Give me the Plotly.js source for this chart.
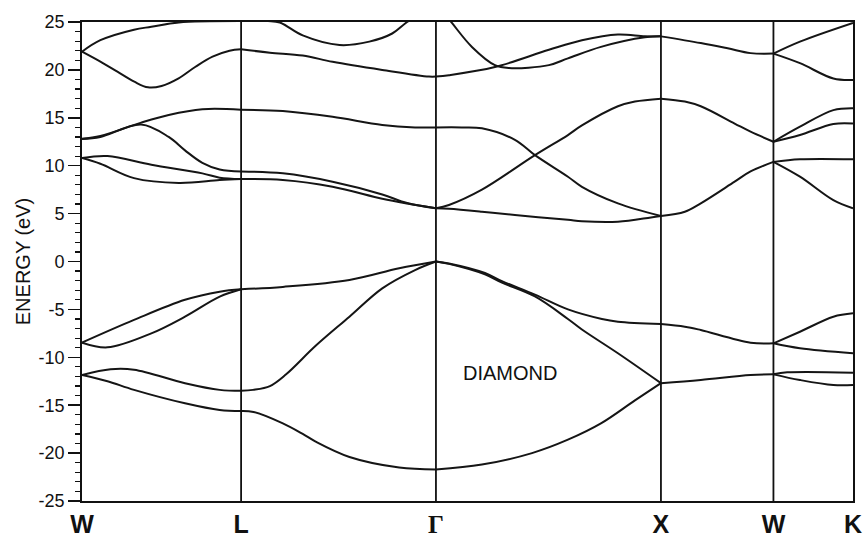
<!DOCTYPE html>
<html>
<head>
<meta charset="utf-8">
<script src="https://cdn.plot.ly/plotly-3.0.1.min.js"></script>
<style>
  html, body { margin: 0; padding: 0; background: #fff; }
  #chart { width: 866px; height: 538px; }
</style>
</head>
<body>
<div id="chart"></div>
<script>
// High-symmetry points along the k-path (units of 2π/a)
const symLabels = ['W', 'L', 'Γ', 'X', 'W', 'K'];
const symK = [0, 0.7071, 1.5731, 2.5731, 3.0731, 3.4267];

const energyTicks = [-25, -20, -15, -10, -5, 0, 5, 10, 15, 20, 25];

// Energy bands of diamond, one list of [k, E (eV)] points per band and per segment

// W → L
const bandsWL = [
  [[0, 21.9], [0.0816, 23.1], [0.2312, 24.2], [0.3082, 24.5], [0.4306, 24.95], [0.7071, 25.1]],
  [[0, 21.9], [0.0816, 20.86], [0.1573, 19.81], [0.2325, 18.77], [0.2933, 18.18], [0.3536, 18.32], [0.4293, 19.12], [0.5045, 20.33], [0.5802, 21.38], [0.6558, 22.0], [0.7071, 22.15]],
  [[0, 12.8], [0.0816, 13.1], [0.2629, 14.5], [0.3853, 15.3], [0.5349, 15.9], [0.7071, 15.85]],
  [[0, 12.8], [0.0816, 13.0], [0.2629, 14.3], [0.3853, 13.0], [0.4578, 11.6], [0.5349, 10.3], [0.6120, 9.6], [0.7071, 9.4]],
  [[0, 10.8], [0.1133, 11.0], [0.3082, 10.1], [0.5349, 9.2], [0.6120, 8.75], [0.7071, 8.6]],
  [[0, 10.8], [0.0816, 10.2], [0.2312, 8.7], [0.4306, 8.2], [0.6120, 8.5], [0.7071, 8.6]],
  [[0, -8.47], [0.2312, -6.1], [0.4578, -4.0], [0.6120, -3.15], [0.7071, -2.9]],
  [[0, -8.47], [0.1133, -8.96], [0.3082, -7.5], [0.4578, -5.76], [0.6120, -3.67], [0.7071, -2.9]],
  [[0, -11.85], [0.1269, -11.25], [0.2312, -11.3], [0.4578, -12.7], [0.6120, -13.4], [0.7071, -13.5]],
  [[0, -11.85], [0.1133, -12.5], [0.2312, -13.4], [0.4578, -14.8], [0.6120, -15.5], [0.7071, -15.6]]
];

// L → Γ
const bandsLG = [
  [[0.7071, 25.1], [0.8264, 25.1], [0.8794, 24.95], [0.9810, 23.6], [1.1445, 22.6], [1.2770, 22.95], [1.3787, 23.8], [1.4449, 25.0], [1.5731, 27.0]],
  [[0.7071, 22.15], [0.8352, 21.8], [0.9810, 21.5], [1.1136, 20.85], [1.3345, 20.0], [1.5421, 19.3], [1.5731, 19.3]],
  [[0.7071, 15.85], [0.8927, 15.7], [1.1136, 15.1], [1.3345, 14.25], [1.4803, 14.0], [1.5731, 14.0]],
  [[0.7071, 9.4], [0.8927, 9.2], [1.1136, 8.33], [1.3345, 7.0], [1.4449, 6.1], [1.5731, 5.55]],
  [[0.7071, 8.6], [0.8927, 8.5], [1.1136, 7.8], [1.3345, 6.55], [1.4449, 6.05], [1.5731, 5.55]],
  [[0.7071, -2.9], [0.8927, -2.65], [1.1887, -1.93], [1.4096, -0.71], [1.5731, 0]],
  [[0.7071, -13.5], [0.7601, -13.4], [0.8352, -13.0], [0.9059, -11.8], [1.0385, -8.8], [1.1887, -5.76], [1.3345, -2.8], [1.4803, -0.89], [1.5731, 0]],
  [[0.7071, -15.6], [0.7624, -15.7], [0.8927, -16.9], [0.9810, -18.0], [1.0385, -18.8], [1.1887, -20.4], [1.4096, -21.5], [1.5731, -21.7]]
];

// Γ → X
const bandsGX = [
  [[1.5731, 5.55], [1.6309, 5.5], [1.7775, 5.2], [1.9242, 4.85], [2.1597, 4.35], [2.2219, 4.2], [2.3819, 4.15], [2.5286, 4.6], [2.5731, 4.75]],
  [[1.5731, 5.55], [1.6309, 5.9], [1.7775, 7.5], [2.0131, 11.1], [2.1597, 13.2], [2.2219, 14.2], [2.3819, 16.2], [2.4575, 16.7], [2.5731, 17.0]],
  [[1.5731, 14.0], [1.6887, 14.0], [1.7775, 13.9], [1.9242, 12.7], [2.0131, 11.1], [2.1597, 8.85], [2.2219, 7.8], [2.3819, 6.07], [2.5731, 4.75]],
  [[1.5731, 19.3], [1.6309, 19.45], [1.8353, 20.3], [2.0753, 22.1], [2.2219, 23.1], [2.3819, 23.7], [2.5019, 23.5], [2.5731, 23.5]],
  [[1.5731, 27.0], [1.6442, 24.9], [1.7331, 22.4], [1.8353, 20.5], [1.8975, 20.2], [2.0753, 20.5], [2.1597, 21.2], [2.3064, 22.4], [2.5019, 23.4], [2.5731, 23.5]],
  [[1.5731, 0], [1.6309, -0.2], [1.7909, -1.2], [1.8664, -2.05], [2.0131, -3.45], [2.1597, -5.0], [2.3108, -6.0], [2.3819, -6.28], [2.5731, -6.52]],
  [[1.5731, 0], [1.6309, -0.25], [1.7909, -1.35], [1.8664, -2.2], [2.0131, -3.65], [2.1597, -6.0], [2.2219, -7.1], [2.3819, -9.58], [2.5731, -12.7]],
  [[1.5731, -21.7], [1.7775, -21.2], [2.0, -20.0], [2.1597, -18.6], [2.3064, -16.9], [2.4575, -14.5], [2.5731, -12.7]]
];

// X → W
const bandsXW = [
  [[2.5731, 23.5], [2.7501, 22.8], [2.8696, 22.25], [2.9714, 21.75], [3.0731, 21.7]],
  [[2.5731, 17.0], [2.6793, 16.7], [2.7501, 16.2], [2.9006, 14.4], [2.9714, 13.55], [3.0731, 12.5]],
  [[2.5731, 4.75], [2.6793, 5.2], [2.7501, 6.07], [2.9006, 8.33], [2.9714, 9.4], [3.0731, 10.4]],
  [[2.5731, -6.52], [2.6793, -6.8], [2.7501, -7.15], [2.9714, -8.47], [3.0731, -8.54]],
  [[2.5731, -12.7], [2.7501, -12.37], [2.9714, -11.85], [3.0731, -11.78]]
];

// W → K
const bandsWK = [
  [[3.0731, 21.7], [3.1910, 22.95], [3.4267, 24.9]],
  [[3.0731, 21.7], [3.1910, 20.7], [3.3394, 19.1], [3.4267, 18.95]],
  [[3.0731, 12.5], [3.1910, 14.07], [3.3394, 15.8], [3.4267, 16.0]],
  [[3.0731, 12.5], [3.1910, 13.2], [3.3394, 14.35], [3.4267, 14.4]],
  [[3.0731, 10.4], [3.1910, 10.67], [3.4267, 10.67]],
  [[3.0731, 10.4], [3.1910, 8.85], [3.3394, 6.4], [3.4267, 5.55]],
  [[3.0731, -8.54], [3.1910, -7.33], [3.3394, -5.76], [3.4267, -5.41]],
  [[3.0731, -8.54], [3.1910, -9.06], [3.4267, -9.58]],
  [[3.0731, -11.78], [3.1342, -11.57], [3.4267, -11.6]],
  [[3.0731, -11.78], [3.1910, -12.37], [3.3394, -12.9], [3.4267, -12.9]]
];

const materialName = 'DIAMOND';

const lineColor = '#151515';
const traces = [];
[bandsWL, bandsLG, bandsGX, bandsXW, bandsWK].forEach(seg => {
  seg.forEach(band => {
    traces.push({
      type: 'scatter',
      mode: 'lines',
      x: band.map(p => p[0]),
      y: band.map(p => p[1]),
      line: { color: lineColor, width: 2, shape: 'spline', smoothing: 1 },
      hoverinfo: 'skip',
      showlegend: false
    });
  });
});

// vertical markers at interior symmetry points
const shapes = symK.slice(1, -1).map(k => ({
  type: 'line', xref: 'x', yref: 'paper',
  x0: k, x1: k, y0: 0, y1: 1,
  line: { color: '#111', width: 1.8 }
}));

const xTickText = symLabels.map(s => s === 'Γ'
  ? '<span style="font-family:\'Liberation Serif\', serif;">Γ</span>'
  : s);

const layout = {
  width: 866,
  height: 538,
  margin: { l: 82, r: 13, t: 22, b: 37 },
  paper_bgcolor: '#fff',
  plot_bgcolor: '#fff',
  showlegend: false,
  font: { family: 'Liberation Sans, Arial, sans-serif', color: '#111' },
  xaxis: {
    range: [symK[0], symK[symK.length - 1]],
    tickmode: 'array',
    tickvals: symK,
    ticktext: xTickText,
    ticks: '',
    tickfont: { size: 25, weight: 700, color: '#111' },
    showgrid: false,
    zeroline: false,
    showline: true,
    mirror: true,
    linecolor: '#111',
    linewidth: 1.8,
    fixedrange: true
  },
  yaxis: {
    range: [-25, 25],
    tickmode: 'array',
    tickvals: energyTicks,
    ticktext: energyTicks.map(v => String(v)),
    ticks: 'outside',
    ticklen: 12,
    tickwidth: 1.5,
    tickcolor: '#111',
    minor: { tickmode: 'linear', tick0: 0, dtick: 1, ticks: 'outside', ticklen: 5, tickwidth: 1.2, tickcolor: '#111' },
    tickfont: { size: 18, color: '#111' },
    title: { text: 'ENERGY (eV)', font: { size: 20, color: '#111' }, standoff: 2 },
    showgrid: false,
    zeroline: false,
    showline: true,
    mirror: true,
    linecolor: '#111',
    linewidth: 1.8,
    fixedrange: true
  },
  shapes: shapes,
  annotations: [{
    x: 1.902, y: -11.6, xref: 'x', yref: 'y',
    text: materialName, showarrow: false,
    font: { size: 20, color: '#111' }
  }]
};

Plotly.newPlot('chart', traces, layout, { displayModeBar: false, staticPlot: true });
</script>
</body>
</html>
